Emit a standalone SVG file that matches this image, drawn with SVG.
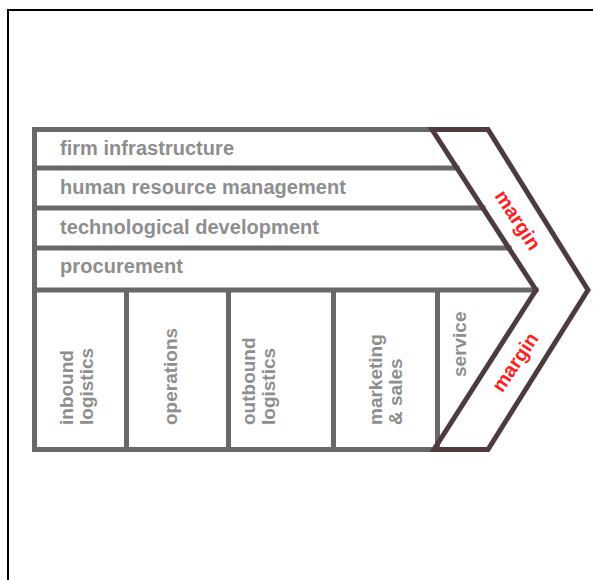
<svg xmlns="http://www.w3.org/2000/svg" width="593" height="580" viewBox="0 0 593 580">
<style>
.grid{stroke:#686868;stroke-width:5;fill:none;stroke-linecap:square}
.chev{stroke:#4e3b3d;stroke-width:5;fill:none;stroke-linejoin:miter}
.lbl{font-family:"Liberation Sans",Arial,sans-serif;font-weight:bold;font-size:20px;fill:#8e8e8e}
.vl{font-family:"Liberation Sans",Arial,sans-serif;font-weight:bold;font-size:19px;fill:#8e8e8e}
.mrg{font-family:"Liberation Sans",Arial,sans-serif;font-weight:bold;font-size:20px;fill:#ff1f1f}
</style>
<rect x="8" y="10" width="600" height="600" fill="#fff" stroke="#000" stroke-width="2"/>
<g id="connectors">
<path class="grid" d="M34.5,129.5H432 M34.5,168H457 M34.5,208H483 M34.5,248H509 M34.5,290H536 M34.5,449.5H434 M34.5,129.5V449.5 M126.5,290V449.5 M228.5,290V449.5 M333.5,290V449.5 M437.5,290V449.5"/>
</g>
<g id="margin">
<path class="chev" d="M432,129.5H488L588,290L488,449.5H434L536,290Z"/>
<text class="mrg" transform="translate(518,220) rotate(57)" text-anchor="middle" dy="7">margin</text>
<text class="mrg" transform="translate(515,362) rotate(-56)" text-anchor="middle" dy="7">margin</text>
</g>
<g id="firm-infrastructure"><text class="lbl" x="60" y="155" textLength="174" lengthAdjust="spacing">firm infrastructure</text></g>
<g id="hrm"><text class="lbl" x="60" y="194" textLength="286" lengthAdjust="spacing">human resource management</text></g>
<g id="tech"><text class="lbl" x="60" y="234" textLength="259" lengthAdjust="spacing">technological development</text></g>
<g id="procurement"><text class="lbl" x="60" y="273" textLength="123" lengthAdjust="spacing">procurement</text></g>
<g id="inbound"><text class="vl" transform="translate(73,425) rotate(-90)">inbound<tspan x="0" dy="20">logistics</tspan></text></g>
<g id="operations"><text class="vl" transform="translate(177,425) rotate(-90)">operations</text></g>
<g id="outbound"><text class="vl" transform="translate(255,425) rotate(-90)">outbound<tspan x="0" dy="20">logistics</tspan></text></g>
<g id="marketing"><text class="vl" transform="translate(382,425) rotate(-90)">marketing<tspan x="0" dy="20">&amp; sales</tspan></text></g>
<g id="service"><text class="vl" transform="translate(466,377) rotate(-90)">service</text></g>
</svg>
